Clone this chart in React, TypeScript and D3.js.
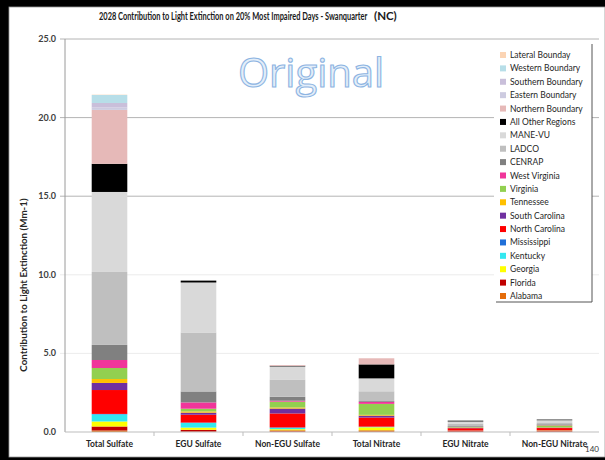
import { useLayoutEffect, useRef } from "react";
import * as d3 from "d3";

const categories = ["Total Sulfate", "EGU Sulfate", "Non-EGU Sulfate", "Total Nitrate", "EGU Nitrate", "Non-EGU Nitrate"];

// stacking order, bottom to top
const sources = [
  "Alabama", "Florida", "Georgia", "Kentucky", "Mississippi", "North Carolina", "South Carolina",
  "Tennessee", "Virginia", "West Virginia", "CENRAP", "LADCO", "MANE-VU", "All Other Regions",
  "Northern Boundary", "Eastern Boundary", "Southern Boundary", "Western Boundary", "Lateral Bounday",
];
const sourceColors = [
  "#E46C0A", "#C00000", "#FFFF00", "#33E8F0", "#1F6FD8", "#FF0000", "#7030A0",
  "#FFC000", "#92D050", "#F0359A", "#808080", "#BFBFBF", "#D9D9D9", "#000000",
  "#E6B9B8", "#CDCBE0", "#C9BFDA", "#B7DEE8", "#FBD4B4",
];

// values per category, same order as sources
const totalSulfate = [0.10, 0.25, 0.32, 0.45, 0.03, 1.52, 0.45, 0.25, 0.70, 0.51, 0.96, 4.64, 5.09, 1.79, 3.43, 0.15, 0.29, 0.51, 0.02];
const eguSulfate = [0.02, 0.12, 0.14, 0.30, 0.02, 0.50, 0.13, 0.08, 0.17, 0.40, 0.70, 3.75, 3.18, 0.12, 0, 0, 0, 0, 0];
const nonEguSulfate = [0.03, 0.07, 0.08, 0.09, 0.02, 0.89, 0.31, 0.07, 0.37, 0.06, 0.25, 1.10, 0.83, 0.04, 0.05, 0, 0, 0, 0];
const totalNitrate = [0.05, 0.05, 0.20, 0.03, 0.01, 0.58, 0.12, 0.05, 0.70, 0.13, 0.05, 0.62, 0.82, 0.89, 0.39, 0, 0, 0, 0];
const eguNitrate = [0.02, 0.05, 0.01, 0.01, 0, 0.15, 0.02, 0.01, 0.04, 0.01, 0.05, 0.15, 0.15, 0.05, 0, 0, 0, 0, 0];
const nonEguNitrate = [0.03, 0.04, 0.02, 0.01, 0, 0.15, 0.03, 0.02, 0.12, 0.02, 0.05, 0.12, 0.14, 0.04, 0, 0, 0, 0, 0];

const yTicks = [0, 5, 10, 15, 20, 25];

const W = 605;
const H = 460;
const plot = { left: 65, right: 599, top: 39, bottom: 432 };
const font = "Lato, 'Open Sans', sans-serif";

export default function App() {
  const titleRef = useRef<SVGTextElement>(null);

  // squeeze the title to the narrow width it has in the original (Calibri-like)
  useLayoutEffect(() => {
    const el = titleRef.current;
    if (!el) return;
    const len = el.getComputedTextLength();
    const sx = Math.min(1, 268 / len);
    el.setAttribute("transform", `translate(99, 20) scale(${sx}, 1)`);
  }, []);

  const seriesByCat = [totalSulfate, eguSulfate, nonEguSulfate, totalNitrate, eguNitrate, nonEguNitrate];
  const table = categories.map((c, i) => {
    const row: Record<string, any> = { category: c };
    sources.forEach((s, j) => (row[s] = seriesByCat[i][j]));
    return row;
  });
  const stacked = d3.stack<Record<string, any>>().keys(sources)(table);

  const x = d3
    .scaleBand()
    .domain(categories)
    .range([plot.left, plot.right])
    .paddingInner(0.6)
    .paddingOuter(0.3);
  const y = d3.scaleLinear().domain([0, 25]).range([plot.bottom, plot.top]);
  const color = d3.scaleOrdinal<string, string>().domain(sources).range(sourceColors);

  const step = x.step();
  const legendItems = sources.slice().reverse();
  const legendY = d3.scalePoint().domain(legendItems).range([55, 296]);

  return (
    <svg width={W} height={H} style={{ position: "absolute", left: 0, top: 0 }}>
      <rect x={0} y={0} width={W} height={H} fill="#000" />
      <rect x={9} y={7} width={W - 9} height={450} fill="#fff" stroke="#999" strokeWidth={0.8} />

      {/* gridlines */}
      {yTicks.filter((t) => t > 0).map((t) => (
        <line
          key={`g-${t}`}
          x1={plot.left - 5}
          x2={plot.right}
          y1={y(t)}
          y2={y(t)}
          stroke={t >= 15 ? "#b4b4b4" : "#ececec"}
          strokeWidth={1}
        />
      ))}

      {/* watermark */}
      <text
        x={311}
        y={87}
        textAnchor="middle"
        fontFamily="'Open Sans', sans-serif"
        fontSize={40}
        fill="#E3EEF9"
        stroke="#8DB4E2"
        strokeWidth={1.1}
      >
        Original
      </text>

      {/* bars */}
      {stacked.map((layer) => (
        <g key={layer.key} fill={color(layer.key)}>
          {layer.map((d, i) =>
            d[1] - d[0] > 0 ? (
              <rect
                key={`${layer.key}-${i}`}
                x={x(categories[i])}
                y={y(d[1])}
                width={x.bandwidth()}
                height={y(d[0]) - y(d[1])}
              />
            ) : null
          )}
        </g>
      ))}

      {/* axes */}
      <line x1={plot.left} x2={plot.left} y1={plot.top} y2={plot.bottom} stroke="#9a9a9a" />
      <line x1={plot.left} x2={plot.right} y1={plot.bottom} y2={plot.bottom} stroke="#bdbdbd" />
      {categories.slice(1).map((c) => (
        <line
          key={`xt-${c}`}
          x1={(x(c) ?? 0) - step * 0.3}
          x2={(x(c) ?? 0) - step * 0.3}
          y1={plot.bottom}
          y2={plot.bottom + 4}
          stroke="#bdbdbd"
        />
      ))}
      {yTicks.map((t) => (
        <text
          key={`yl-${t}`}
          x={56}
          y={y(t) + 3}
          textAnchor="end"
          fontFamily={font}
          fontSize={9}
          fontWeight={700}
          fill="#404040"
        >
          {t.toFixed(1)}
        </text>
      ))}
      {categories.map((c) => (
        <text
          key={`xl-${c}`}
          x={(x(c) ?? 0) + x.bandwidth() / 2}
          y={447}
          textAnchor="middle"
          fontFamily={font}
          fontSize={8.5}
          fontWeight={700}
          fill="#262626"
        >
          {c}
        </text>
      ))}
      <text
        transform={`translate(27, 285) rotate(-90)`}
        textAnchor="middle"
        fontFamily={font}
        fontSize={9.8}
        fontWeight={700}
        fill="#262626"
      >
        Contribution to Light Extinction (Mm-1)
      </text>

      {/* title */}
      <text ref={titleRef} transform="translate(99, 20) scale(0.72, 1)" fontFamily={font} fontSize={10.5} fontWeight={700} fill="#1a1a1a">
        2028 Contribution to Light Extinction on 20% Most Impaired Days - Swanquarter
      </text>
      <text x={374} y={20} fontFamily={font} fontSize={11.5} fontWeight={700} fill="#1a1a1a">
        (NC)
      </text>

      {/* legend */}
      <rect x={494} y={44} width={98} height={258} fill="#fff" />
      <line x1={592} x2={592} y1={44} y2={302} stroke="#555" />
      <line x1={496} x2={592} y1={302} y2={302} stroke="#555" />
      {legendItems.map((s) => (
        <g key={`lg-${s}`} transform={`translate(500, ${legendY(s)})`}>
          <rect x={0} y={-3} width={6} height={6} fill={color(s)} />
          <text x={10} y={3} fontFamily={font} fontSize={8.5} fill="#262626">
            {s}
          </text>
        </g>
      ))}

      <text x={585} y={452} fontFamily={font} fontSize={8} fill="#333">
        140
      </text>
    </svg>
  );
}
